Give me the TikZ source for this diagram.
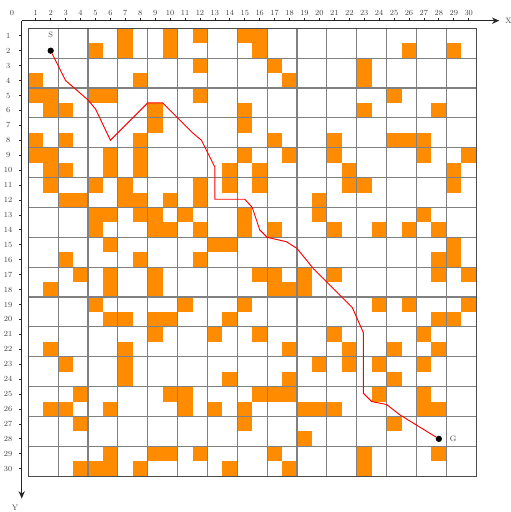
\documentclass[tikz,border=0pt]{standalone}
\usepackage{xcolor}
\usepackage{tikz}
\usetikzlibrary{arrows.meta}

\definecolor{obstacle}{RGB}{255,140,0}

\begin{document}
\begin{tikzpicture}[x=0.5cm, y=-0.5cm,
        cell/.style={fill=obstacle},
        gridline/.style={draw=black!50, line width=1.15pt},
        axis/.style={draw=black!85, line width=1.4pt, -{Stealth[length=7pt, width=6pt]}},
        tick/.style={draw=black!85, line width=0.7pt},
        num/.style={font=\fontsize{7.5}{8}\selectfont, text=black!75, inner sep=0pt},
        dot/.style={circle, fill=black, inner sep=0pt, minimum size=6pt},
        route/.style={draw=red, line width=0.9pt}]
        \useasboundingbox (-1.895,-1.895) rectangle (32.33,32.40);

        % obstacles, row by row
        \foreach \r/\cols in {1/{7,10,12,15,16}, 2/{5,7,10,16,26,29}, 3/{12,17,23},
            4/{1,8,18,23}, 5/{1,2,5,6,12,25}, 6/{2,3,9,15,23,28}, 7/{9,15},
            8/{1,3,8,17,21,25,26,27}, 9/{1,2,6,8,15,18,21,27,30},
            10/{2,3,6,8,14,16,22,29}, 11/{2,5,7,12,14,16,22,23,29},
            12/{3,4,7,8,10,12,20}, 13/{5,6,8,9,11,15,20,27},
            14/{5,9,10,12,15,17,21,24,26,28}, 15/{6,13,14,29}, 16/{3,8,12,28,29},
            17/{4,6,9,16,17,19,21,28,30}, 18/{2,6,9,17,18,19},
            19/{5,11,15,24,26,30}, 20/{6,7,9,10,14,28,29}, 21/{9,13,16,21,27},
            22/{2,7,18,22,25,28}, 23/{3,7,20,22,24,27}, 24/{7,14,18,25},
            25/{4,10,11,16,17,18,24,27}, 26/{2,3,6,11,13,15,19,20,21,27,28},
            27/{4,15,25}, 28/{19}, 29/{6,9,10,12,17,23,28}, 30/{4,5,6,8,14,18,23}}
            \foreach \c in \cols
                \fill[cell] (\c-1,\r-1) rectangle (\c,\r);

        \draw[gridline] (0,0) grid (30,30);
        \draw[black!70, line width=1.2pt] (0,0) rectangle (30,30);

        % axes
        \coordinate (o) at (-0.44,-0.51);
        \coordinate (xend) at (31.55,-0.51);
        \coordinate (yend) at (-0.44,31.5);
        \draw[axis] (o) -- (xend);
        \draw[axis] (o) -- (yend);
        \node[num, anchor=west] (xlab) at (31.95,-0.51) {X};
        \node[num] (ylab) at (-0.89,32.12) {Y};
        \node[num] (zero) at (-1.1,-1.05) {0};
        \foreach \i in {1,...,30} {
            \draw[tick] (\i-0.5,-0.51) -- (\i-0.5,-0.68);
            \node[num] (col\i) at (\i-0.5,-1.05) {\i};
            \draw[tick] (-0.44,\i-0.5) -- (-0.64,\i-0.5);
            \node[num] (row\i) at (-1.35,\i-0.5) {\i};
        }

        % start, goal and route
        \node[dot] (s) at (1.5,1.5) {};
        \node[num] (slab) at (1.5,0.45) {S};
        \node[dot] (g) at (27.5,27.5) {};
        \node[num] (glab) at (28.45,27.5) {G};

        \draw[route] (s) -- (2.5,3.5) -- (4.0,4.8) -- (4.5,5.4) -- (5.5,7.5)
            -- (8,5) -- (9,5) -- (10,6) -- (11,7) -- (11.6,7.5) -- (12.5,9.3)
            -- (12.5,11.45) -- (14.5,11.45) -- (15,12) -- (15.5,13.5) -- (16,14)
            -- (17.3,14.3) -- (18,14.75) -- (19.1,16.1) -- (20.5,17.5) -- (21.7,18.7)
            -- (22.45,20.4) -- (22.45,24.45) -- (23,25) -- (24,25.2) -- (24.9,25.9)
            -- (g);
\end{tikzpicture}
\end{document}
